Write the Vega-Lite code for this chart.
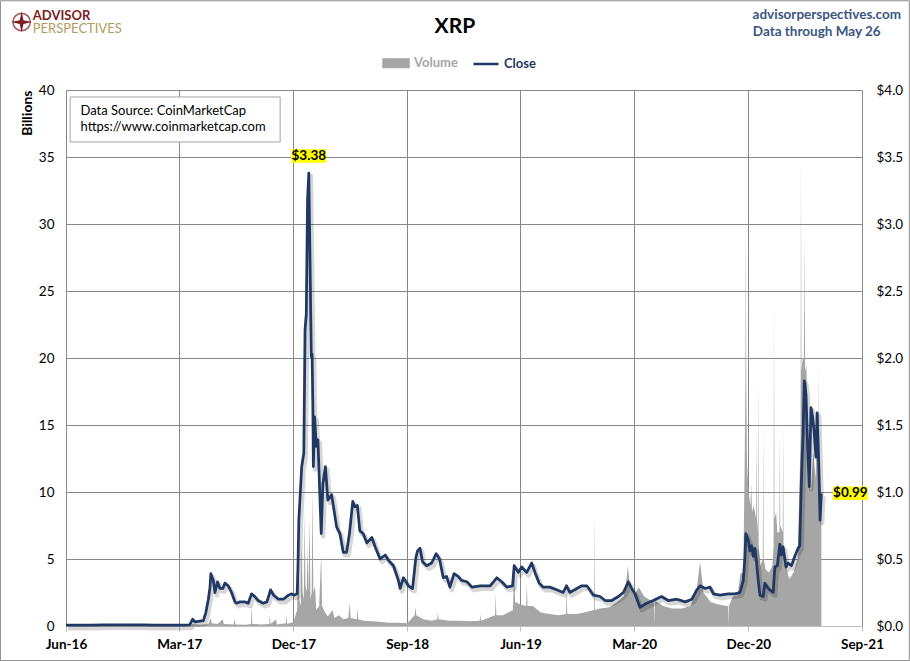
{
  "$schema": "https://vega.github.io/schema/vega-lite/v6.json",
  "description": "XRP daily close and trading volume, Jun 2016 - May 2021.",
  "width": 796,
  "height": 536,
  "autosize": {"type": "none"},
  "padding": {"left": 66, "top": 90, "right": 48, "bottom": 35},
  "background": "white",
  "config": {
    "font": "Lato",
    "view": {"stroke": null},
    "axis": {"labelColor": "#000", "labelFontSize": 13.5, "labelFont": "Lato"}
  },
  "datasets": {
    "price": [
      {"date": "2016-06-01", "close": 0.006},
      {"date": "2016-07-01", "close": 0.0065},
      {"date": "2016-08-01", "close": 0.006},
      {"date": "2016-09-01", "close": 0.0075},
      {"date": "2016-10-01", "close": 0.0085},
      {"date": "2016-11-01", "close": 0.008},
      {"date": "2016-12-01", "close": 0.0075},
      {"date": "2017-01-01", "close": 0.0065},
      {"date": "2017-02-01", "close": 0.0065},
      {"date": "2017-03-01", "close": 0.006},
      {"date": "2017-03-10", "close": 0.007},
      {"date": "2017-03-26", "close": 0.008},
      {"date": "2017-04-02", "close": 0.05},
      {"date": "2017-04-08", "close": 0.03},
      {"date": "2017-04-28", "close": 0.04},
      {"date": "2017-05-04", "close": 0.10},
      {"date": "2017-05-10", "close": 0.20},
      {"date": "2017-05-14", "close": 0.29},
      {"date": "2017-05-16", "close": 0.39},
      {"date": "2017-05-22", "close": 0.34},
      {"date": "2017-05-26", "close": 0.25},
      {"date": "2017-06-01", "close": 0.33},
      {"date": "2017-06-07", "close": 0.28},
      {"date": "2017-06-14", "close": 0.28},
      {"date": "2017-06-19", "close": 0.32},
      {"date": "2017-06-27", "close": 0.30},
      {"date": "2017-07-05", "close": 0.25},
      {"date": "2017-07-13", "close": 0.18},
      {"date": "2017-07-17", "close": 0.17},
      {"date": "2017-07-25", "close": 0.18},
      {"date": "2017-08-06", "close": 0.18},
      {"date": "2017-08-14", "close": 0.17},
      {"date": "2017-08-22", "close": 0.24},
      {"date": "2017-08-30", "close": 0.22},
      {"date": "2017-09-07", "close": 0.19},
      {"date": "2017-09-19", "close": 0.17},
      {"date": "2017-09-28", "close": 0.18},
      {"date": "2017-10-07", "close": 0.27},
      {"date": "2017-10-14", "close": 0.23},
      {"date": "2017-10-26", "close": 0.20},
      {"date": "2017-11-07", "close": 0.20},
      {"date": "2017-11-19", "close": 0.23},
      {"date": "2017-11-27", "close": 0.24},
      {"date": "2017-12-02", "close": 0.23},
      {"date": "2017-12-10", "close": 0.24},
      {"date": "2017-12-12", "close": 0.45},
      {"date": "2017-12-14", "close": 0.79},
      {"date": "2017-12-21", "close": 1.19},
      {"date": "2017-12-26", "close": 1.29},
      {"date": "2017-12-29", "close": 2.21},
      {"date": "2018-01-01", "close": 2.33},
      {"date": "2018-01-04", "close": 3.18},
      {"date": "2018-01-07", "close": 3.38},
      {"date": "2018-01-10", "close": 2.73},
      {"date": "2018-01-13", "close": 2.01},
      {"date": "2018-01-15", "close": 2.03},
      {"date": "2018-01-17", "close": 1.59},
      {"date": "2018-01-18", "close": 1.19},
      {"date": "2018-01-21", "close": 1.56},
      {"date": "2018-01-25", "close": 1.34},
      {"date": "2018-01-29", "close": 1.39},
      {"date": "2018-02-04", "close": 0.86},
      {"date": "2018-02-06", "close": 0.69},
      {"date": "2018-02-10", "close": 1.06},
      {"date": "2018-02-16", "close": 1.19},
      {"date": "2018-02-22", "close": 0.94},
      {"date": "2018-03-03", "close": 0.98},
      {"date": "2018-03-15", "close": 0.74},
      {"date": "2018-03-23", "close": 0.69},
      {"date": "2018-03-31", "close": 0.55},
      {"date": "2018-04-08", "close": 0.55},
      {"date": "2018-04-15", "close": 0.69},
      {"date": "2018-04-23", "close": 0.93},
      {"date": "2018-04-28", "close": 0.89},
      {"date": "2018-05-04", "close": 0.90},
      {"date": "2018-05-10", "close": 0.71},
      {"date": "2018-05-18", "close": 0.69},
      {"date": "2018-05-27", "close": 0.62},
      {"date": "2018-06-08", "close": 0.66},
      {"date": "2018-06-16", "close": 0.59},
      {"date": "2018-06-28", "close": 0.50},
      {"date": "2018-07-10", "close": 0.53},
      {"date": "2018-07-18", "close": 0.49},
      {"date": "2018-07-30", "close": 0.45},
      {"date": "2018-08-11", "close": 0.34},
      {"date": "2018-08-15", "close": 0.28},
      {"date": "2018-08-23", "close": 0.36},
      {"date": "2018-09-04", "close": 0.30},
      {"date": "2018-09-14", "close": 0.28},
      {"date": "2018-09-22", "close": 0.51},
      {"date": "2018-09-26", "close": 0.56},
      {"date": "2018-10-02", "close": 0.58},
      {"date": "2018-10-08", "close": 0.48},
      {"date": "2018-10-18", "close": 0.45},
      {"date": "2018-10-30", "close": 0.47},
      {"date": "2018-11-10", "close": 0.54},
      {"date": "2018-11-18", "close": 0.50},
      {"date": "2018-11-27", "close": 0.36},
      {"date": "2018-12-05", "close": 0.37},
      {"date": "2018-12-13", "close": 0.29},
      {"date": "2018-12-23", "close": 0.39},
      {"date": "2019-01-02", "close": 0.37},
      {"date": "2019-01-10", "close": 0.34},
      {"date": "2019-01-23", "close": 0.33},
      {"date": "2019-02-04", "close": 0.29},
      {"date": "2019-02-24", "close": 0.30},
      {"date": "2019-03-20", "close": 0.30},
      {"date": "2019-04-05", "close": 0.36},
      {"date": "2019-04-17", "close": 0.33},
      {"date": "2019-04-29", "close": 0.29},
      {"date": "2019-05-13", "close": 0.30},
      {"date": "2019-05-17", "close": 0.45},
      {"date": "2019-05-27", "close": 0.40},
      {"date": "2019-06-04", "close": 0.44},
      {"date": "2019-06-16", "close": 0.40},
      {"date": "2019-06-28", "close": 0.47},
      {"date": "2019-07-06", "close": 0.40},
      {"date": "2019-07-16", "close": 0.32},
      {"date": "2019-07-26", "close": 0.29},
      {"date": "2019-08-11", "close": 0.29},
      {"date": "2019-08-27", "close": 0.27},
      {"date": "2019-09-12", "close": 0.25},
      {"date": "2019-09-20", "close": 0.30},
      {"date": "2019-09-28", "close": 0.25},
      {"date": "2019-10-15", "close": 0.28},
      {"date": "2019-10-27", "close": 0.30},
      {"date": "2019-11-08", "close": 0.30},
      {"date": "2019-11-24", "close": 0.23},
      {"date": "2019-12-10", "close": 0.22},
      {"date": "2019-12-22", "close": 0.19},
      {"date": "2020-01-07", "close": 0.19},
      {"date": "2020-01-23", "close": 0.22},
      {"date": "2020-02-04", "close": 0.25},
      {"date": "2020-02-16", "close": 0.33},
      {"date": "2020-02-24", "close": 0.28},
      {"date": "2020-03-03", "close": 0.24},
      {"date": "2020-03-15", "close": 0.14},
      {"date": "2020-03-31", "close": 0.17},
      {"date": "2020-04-16", "close": 0.19},
      {"date": "2020-05-06", "close": 0.22},
      {"date": "2020-05-22", "close": 0.19},
      {"date": "2020-06-12", "close": 0.20},
      {"date": "2020-07-02", "close": 0.18},
      {"date": "2020-07-18", "close": 0.20},
      {"date": "2020-07-30", "close": 0.27},
      {"date": "2020-08-07", "close": 0.30},
      {"date": "2020-08-19", "close": 0.28},
      {"date": "2020-08-31", "close": 0.29},
      {"date": "2020-09-08", "close": 0.24},
      {"date": "2020-09-24", "close": 0.23},
      {"date": "2020-10-14", "close": 0.24},
      {"date": "2020-10-30", "close": 0.24},
      {"date": "2020-11-11", "close": 0.25},
      {"date": "2020-11-19", "close": 0.34},
      {"date": "2020-11-23", "close": 0.52},
      {"date": "2020-11-25", "close": 0.69},
      {"date": "2020-12-01", "close": 0.64},
      {"date": "2020-12-05", "close": 0.56},
      {"date": "2020-12-09", "close": 0.60},
      {"date": "2020-12-13", "close": 0.52},
      {"date": "2020-12-17", "close": 0.58},
      {"date": "2020-12-21", "close": 0.47},
      {"date": "2020-12-25", "close": 0.34},
      {"date": "2020-12-29", "close": 0.23},
      {"date": "2021-01-06", "close": 0.22},
      {"date": "2021-01-10", "close": 0.32},
      {"date": "2021-01-18", "close": 0.28},
      {"date": "2021-01-30", "close": 0.25},
      {"date": "2021-02-03", "close": 0.44},
      {"date": "2021-02-09", "close": 0.45},
      {"date": "2021-02-15", "close": 0.61},
      {"date": "2021-02-19", "close": 0.53},
      {"date": "2021-02-23", "close": 0.59},
      {"date": "2021-03-02", "close": 0.44},
      {"date": "2021-03-07", "close": 0.47},
      {"date": "2021-03-15", "close": 0.45},
      {"date": "2021-03-23", "close": 0.52},
      {"date": "2021-03-31", "close": 0.58},
      {"date": "2021-04-04", "close": 0.60},
      {"date": "2021-04-08", "close": 1.09},
      {"date": "2021-04-12", "close": 1.44},
      {"date": "2021-04-15", "close": 1.83},
      {"date": "2021-04-19", "close": 1.73},
      {"date": "2021-04-23", "close": 1.34},
      {"date": "2021-04-27", "close": 1.04},
      {"date": "2021-05-01", "close": 1.63},
      {"date": "2021-05-05", "close": 1.56},
      {"date": "2021-05-09", "close": 1.44},
      {"date": "2021-05-13", "close": 1.26},
      {"date": "2021-05-16", "close": 1.59},
      {"date": "2021-05-20", "close": 1.19},
      {"date": "2021-05-23", "close": 0.79},
      {"date": "2021-05-26", "close": 0.99}
    ],
    "volume": [
      {"date": "2016-06-01", "volume": 0},
      {"date": "2017-03-01", "volume": 0.01},
      {"date": "2017-03-28", "volume": 0.05},
      {"date": "2017-04-02", "volume": 0.15},
      {"date": "2017-04-20", "volume": 0.1},
      {"date": "2017-05-10", "volume": 0.15},
      {"date": "2017-05-16", "volume": 0.6},
      {"date": "2017-05-18", "volume": 0.2},
      {"date": "2017-06-01", "volume": 0.15},
      {"date": "2017-06-14", "volume": 0.5},
      {"date": "2017-06-16", "volume": 0.15},
      {"date": "2017-07-10", "volume": 0.12},
      {"date": "2017-07-12", "volume": 0.55},
      {"date": "2017-07-14", "volume": 0.12},
      {"date": "2017-08-08", "volume": 0.1},
      {"date": "2017-08-21", "volume": 0.15},
      {"date": "2017-08-22", "volume": 1.5},
      {"date": "2017-08-24", "volume": 0.15},
      {"date": "2017-09-15", "volume": 0.12},
      {"date": "2017-10-04", "volume": 0.15},
      {"date": "2017-10-05", "volume": 0.8},
      {"date": "2017-10-07", "volume": 0.15},
      {"date": "2017-10-20", "volume": 0.5},
      {"date": "2017-10-22", "volume": 0.12},
      {"date": "2017-11-13", "volume": 0.2},
      {"date": "2017-11-14", "volume": 0.9},
      {"date": "2017-11-16", "volume": 0.15},
      {"date": "2017-12-01", "volume": 0.3},
      {"date": "2017-12-10", "volume": 1.2},
      {"date": "2017-12-13", "volume": 8.0},
      {"date": "2017-12-15", "volume": 2.0},
      {"date": "2017-12-19", "volume": 1.5},
      {"date": "2017-12-21", "volume": 6.0},
      {"date": "2017-12-23", "volume": 2.5},
      {"date": "2017-12-26", "volume": 2.0},
      {"date": "2017-12-28", "volume": 8.5},
      {"date": "2017-12-30", "volume": 3.0},
      {"date": "2018-01-02", "volume": 2.5},
      {"date": "2018-01-04", "volume": 6.0},
      {"date": "2018-01-06", "volume": 2.5},
      {"date": "2018-01-09", "volume": 8.0},
      {"date": "2018-01-11", "volume": 2.0},
      {"date": "2018-01-14", "volume": 2.5},
      {"date": "2018-01-16", "volume": 10.4},
      {"date": "2018-01-18", "volume": 2.5},
      {"date": "2018-01-22", "volume": 3.0},
      {"date": "2018-01-25", "volume": 1.2},
      {"date": "2018-02-01", "volume": 1.5},
      {"date": "2018-02-06", "volume": 5.4},
      {"date": "2018-02-08", "volume": 1.5},
      {"date": "2018-02-15", "volume": 1.0},
      {"date": "2018-02-22", "volume": 0.7},
      {"date": "2018-03-05", "volume": 1.2},
      {"date": "2018-03-10", "volume": 0.6},
      {"date": "2018-03-20", "volume": 0.8},
      {"date": "2018-04-01", "volume": 0.5},
      {"date": "2018-04-12", "volume": 0.6},
      {"date": "2018-04-16", "volume": 1.7},
      {"date": "2018-04-18", "volume": 0.6},
      {"date": "2018-05-03", "volume": 0.5},
      {"date": "2018-05-04", "volume": 1.4},
      {"date": "2018-05-06", "volume": 0.5},
      {"date": "2018-05-20", "volume": 0.4},
      {"date": "2018-06-10", "volume": 0.35},
      {"date": "2018-07-01", "volume": 0.3},
      {"date": "2018-07-20", "volume": 0.25},
      {"date": "2018-08-10", "volume": 0.25},
      {"date": "2018-09-01", "volume": 0.2},
      {"date": "2018-09-19", "volume": 0.8},
      {"date": "2018-09-21", "volume": 1.4},
      {"date": "2018-09-23", "volume": 0.8},
      {"date": "2018-10-10", "volume": 0.5},
      {"date": "2018-10-30", "volume": 0.4},
      {"date": "2018-11-13", "volume": 0.5},
      {"date": "2018-11-14", "volume": 1.0},
      {"date": "2018-11-16", "volume": 0.5},
      {"date": "2018-12-10", "volume": 0.4},
      {"date": "2019-01-05", "volume": 0.4},
      {"date": "2019-02-01", "volume": 0.35},
      {"date": "2019-02-23", "volume": 0.4},
      {"date": "2019-02-24", "volume": 0.9},
      {"date": "2019-02-26", "volume": 0.4},
      {"date": "2019-03-15", "volume": 0.6},
      {"date": "2019-04-01", "volume": 0.8},
      {"date": "2019-04-02", "volume": 2.4},
      {"date": "2019-04-04", "volume": 0.8},
      {"date": "2019-04-20", "volume": 0.8},
      {"date": "2019-05-14", "volume": 1.2},
      {"date": "2019-05-17", "volume": 4.7},
      {"date": "2019-05-19", "volume": 1.8},
      {"date": "2019-06-01", "volume": 1.6},
      {"date": "2019-06-15", "volume": 1.5},
      {"date": "2019-06-16", "volume": 3.2},
      {"date": "2019-06-18", "volume": 1.5},
      {"date": "2019-07-01", "volume": 1.5},
      {"date": "2019-07-20", "volume": 1.0},
      {"date": "2019-08-10", "volume": 0.9},
      {"date": "2019-09-01", "volume": 0.8},
      {"date": "2019-09-19", "volume": 0.9},
      {"date": "2019-09-20", "volume": 2.6},
      {"date": "2019-09-22", "volume": 0.9},
      {"date": "2019-10-15", "volume": 0.9},
      {"date": "2019-11-01", "volume": 1.0},
      {"date": "2019-11-25", "volume": 1.2},
      {"date": "2019-11-26", "volume": 8.5},
      {"date": "2019-11-27", "volume": 1.2},
      {"date": "2019-12-10", "volume": 1.3},
      {"date": "2020-01-01", "volume": 1.4},
      {"date": "2020-01-20", "volume": 1.8},
      {"date": "2020-02-05", "volume": 2.2},
      {"date": "2020-02-12", "volume": 3.6},
      {"date": "2020-02-15", "volume": 4.5},
      {"date": "2020-02-20", "volume": 2.8},
      {"date": "2020-03-01", "volume": 2.3},
      {"date": "2020-03-12", "volume": 2.9},
      {"date": "2020-03-25", "volume": 2.2},
      {"date": "2020-04-10", "volume": 1.9},
      {"date": "2020-04-18", "volume": 1.9},
      {"date": "2020-04-19", "volume": 0},
      {"date": "2020-04-20", "volume": 1.9},
      {"date": "2020-05-10", "volume": 1.5},
      {"date": "2020-06-01", "volume": 1.3},
      {"date": "2020-06-25", "volume": 1.3},
      {"date": "2020-07-15", "volume": 1.5},
      {"date": "2020-07-30", "volume": 2.8},
      {"date": "2020-08-07", "volume": 4.8},
      {"date": "2020-08-15", "volume": 2.5},
      {"date": "2020-09-01", "volume": 1.8},
      {"date": "2020-09-20", "volume": 1.6},
      {"date": "2020-10-10", "volume": 1.5},
      {"date": "2020-10-13", "volume": 1.5},
      {"date": "2020-10-14", "volume": 0},
      {"date": "2020-10-15", "volume": 1.5},
      {"date": "2020-10-25", "volume": 2.2},
      {"date": "2020-11-05", "volume": 2.3},
      {"date": "2020-11-12", "volume": 3.9},
      {"date": "2020-11-19", "volume": 4.0},
      {"date": "2020-11-22", "volume": 11.4},
      {"date": "2020-11-24", "volume": 18},
      {"date": "2020-11-25", "volume": 31.3},
      {"date": "2020-11-26", "volume": 18},
      {"date": "2020-11-28", "volume": 12},
      {"date": "2020-12-02", "volume": 9.9},
      {"date": "2020-12-06", "volume": 9.0},
      {"date": "2020-12-08", "volume": 10.6},
      {"date": "2020-12-10", "volume": 8.5},
      {"date": "2020-12-14", "volume": 9.0},
      {"date": "2020-12-20", "volume": 8},
      {"date": "2020-12-21", "volume": 15},
      {"date": "2020-12-22", "volume": 8},
      {"date": "2020-12-24", "volume": 7},
      {"date": "2020-12-25", "volume": 19},
      {"date": "2020-12-26", "volume": 6},
      {"date": "2020-12-30", "volume": 4.5},
      {"date": "2021-01-05", "volume": 5},
      {"date": "2021-01-06", "volume": 14.8},
      {"date": "2021-01-07", "volume": 5},
      {"date": "2021-01-12", "volume": 4.2},
      {"date": "2021-01-20", "volume": 4.0},
      {"date": "2021-01-28", "volume": 4.5},
      {"date": "2021-01-31", "volume": 6},
      {"date": "2021-02-01", "volume": 24.3},
      {"date": "2021-02-02", "volume": 8},
      {"date": "2021-02-06", "volume": 8.5},
      {"date": "2021-02-09", "volume": 7.0},
      {"date": "2021-02-14", "volume": 7},
      {"date": "2021-02-15", "volume": 14.4},
      {"date": "2021-02-16", "volume": 7.5},
      {"date": "2021-02-22", "volume": 7},
      {"date": "2021-02-23", "volume": 15},
      {"date": "2021-02-24", "volume": 6},
      {"date": "2021-03-01", "volume": 4.5},
      {"date": "2021-03-10", "volume": 3.5},
      {"date": "2021-03-20", "volume": 4.0},
      {"date": "2021-03-30", "volume": 5.0},
      {"date": "2021-04-03", "volume": 10},
      {"date": "2021-04-06", "volume": 14},
      {"date": "2021-04-07", "volume": 35.5},
      {"date": "2021-04-08", "volume": 19},
      {"date": "2021-04-11", "volume": 20},
      {"date": "2021-04-14", "volume": 20},
      {"date": "2021-04-15", "volume": 29},
      {"date": "2021-04-17", "volume": 19},
      {"date": "2021-04-20", "volume": 19.5},
      {"date": "2021-04-25", "volume": 12},
      {"date": "2021-05-01", "volume": 10},
      {"date": "2021-05-07", "volume": 13},
      {"date": "2021-05-12", "volume": 11},
      {"date": "2021-05-17", "volume": 15},
      {"date": "2021-05-19", "volume": 10},
      {"date": "2021-05-20", "volume": 19.8},
      {"date": "2021-05-21", "volume": 9},
      {"date": "2021-05-23", "volume": 8.9},
      {"date": "2021-05-26", "volume": 8.0}
    ]
  },
  "layer": [
    {
      "layer": [
        {
          "data": {"name": "volume"},
          "mark": {"type": "area", "interpolate": "linear"},
          "encoding": {
            "x": {
              "field": "date",
              "type": "temporal",
              "scale": {
                "type": "utc",
                "nice": false,
                "domain": [
                  {"year": 2016, "month": 6, "date": 1, "utc": true},
                  {"year": 2021, "month": 9, "date": 1, "utc": true}
                ]
              },
              "axis": {
                "title": null,
                "values": [
                  {"year": 2016, "month": 6, "date": 1, "utc": true},
                  {"year": 2017, "month": 3, "date": 1, "utc": true},
                  {"year": 2017, "month": 12, "date": 1, "utc": true},
                  {"year": 2018, "month": 9, "date": 1, "utc": true},
                  {"year": 2019, "month": 6, "date": 1, "utc": true},
                  {"year": 2020, "month": 3, "date": 1, "utc": true},
                  {"year": 2020, "month": 12, "date": 1, "utc": true},
                  {"year": 2021, "month": 9, "date": 1, "utc": true}
                ],
                "labelExpr": "utcFormat(datum.value, '%b-%y')",
                "labelFontWeight": "bold",
                "labelFontSize": 13.5,
                "labelPadding": 6,
                "labelFlush": false,
                "labelOverlap": false,
                "grid": true,
                "gridColor": "#878787",
                "gridWidth": 1,
                "domainColor": "#BFBFBF",
                "tickColor": "#BFBFBF",
                "tickSize": 5
              }
            },
            "y": {
              "field": "volume",
              "type": "quantitative",
              "scale": {"domain": [0, 40], "nice": false, "zero": true},
              "axis": {
                "title": "Billions",
                "titleFontSize": 14,
                "titleFontWeight": "bold",
                "titleColor": "#000",
                "titleAnchor": "end",
                "titlePadding": 4,
                "values": [0, 5, 10, 15, 20, 25, 30, 35, 40],
                "ticks": false,
                "domain": false,
                "labelPadding": 12,
                "grid": true,
                "gridColor": "#878787",
                "gridWidth": 1
              }
            },
            "color": {
              "datum": "Volume",
              "scale": {"domain": ["Volume", "Close"], "range": ["#A6A6A6", "#1F3864"]},
              "legend": {
                "title": null,
                "orient": "none",
                "direction": "horizontal",
                "legendX": 316,
                "legendY": -41,
                "symbolSize": 625,
                "labelFontSize": 13,
                "labelFontWeight": "bold",
                "labelOffset": 4,
                "columnPadding": 10,
                "encode": {
                  "symbols": {
                    "update": {
                      "shape": {"signal": "datum.value === 'Volume' ? 'M-1,-0.3H1V0.3H-1Z' : 'stroke'"},
                      "fill": {"signal": "datum.value === 'Volume' ? '#A6A6A6' : 'transparent'"},
                      "stroke": {"signal": "datum.value === 'Volume' ? 'transparent' : '#1F3864'"},
                      "strokeWidth": {"value": 2.5}
                    }
                  },
                  "labels": {
                    "update": {
                      "fill": {"signal": "datum.value === 'Volume' ? '#A6A6A6' : '#1F3864'"}
                    }
                  }
                }
              }
            }
          }
        },
        {
          "data": {"values": [{}]},
          "mark": {"type": "rect", "fill": "transparent", "stroke": "#8C8C8C", "strokeWidth": 1},
          "encoding": {
            "x": {"datum": {"year": 2015, "month": 12, "date": 26, "utc": true}, "type": "temporal"},
            "x2": {"datum": {"year": 2021, "month": 12, "date": 24, "utc": true}},
            "y": {"datum": 46.66, "type": "quantitative"},
            "y2": {"datum": -2.58}
          }
        },
        {
          "data": {"values": [{}]},
          "mark": {"type": "rect", "fill": "#8C8C8C", "opacity": 0.35, "xOffset": 3, "yOffset": 3},
          "encoding": {
            "x": {"datum": {"year": 2016, "month": 6, "date": 11, "utc": true}, "type": "temporal"},
            "x2": {"datum": {"year": 2017, "month": 10, "date": 30, "utc": true}},
            "y": {"datum": 39.48, "type": "quantitative"},
            "y2": {"datum": 36.12}
          }
        },
        {
          "data": {"values": [{}]},
          "mark": {"type": "rect", "fill": "white", "stroke": "#A6A6A6", "strokeWidth": 1},
          "encoding": {
            "x": {"datum": {"year": 2016, "month": 6, "date": 11, "utc": true}, "type": "temporal"},
            "x2": {"datum": {"year": 2017, "month": 10, "date": 30, "utc": true}},
            "y": {"datum": 39.48, "type": "quantitative"},
            "y2": {"datum": 36.12}
          }
        },
        {
          "data": {"values": [{}]},
          "mark": {
            "type": "text",
            "text": "Data Source: CoinMarketCap\nhttps://www.coinmarketcap.com",
            "lineBreak": "\n",
            "lineHeight": 16,
            "align": "left",
            "baseline": "alphabetic",
            "fontSize": 13,
            "color": "#000"
          },
          "encoding": {
            "x": {"datum": {"year": 2016, "month": 7, "date": 6, "utc": true}, "type": "temporal"},
            "y": {"datum": 38.11, "type": "quantitative"}
          }
        },
        {
          "data": {"values": [{}]},
          "mark": {"type": "text", "text": "XRP", "align": "center", "baseline": "alphabetic", "fontSize": 21, "fontWeight": "bold", "color": "#000"},
          "encoding": {
            "x": {"datum": {"year": 2018, "month": 12, "date": 25, "utc": true}, "type": "temporal"},
            "y": {"datum": 44.23, "type": "quantitative"}
          }
        },
        {
          "data": {"values": [{}]},
          "mark": {"type": "point", "shape": "circle", "filled": false, "stroke": "#7B1E22", "strokeWidth": 1.6, "size": 300},
          "encoding": {
            "x": {"datum": {"year": 2016, "month": 2, "date": 15, "utc": true}, "type": "temporal"},
            "y": {"datum": 45.07, "type": "quantitative"}
          }
        },
        {
          "data": {"values": [{}]},
          "mark": {
            "type": "point",
            "shape": "M0,-1L0.18,-0.18L1,0L0.18,0.18L0,1L-0.18,0.18L-1,0L-0.18,-0.18Z",
            "filled": true,
            "fill": "#7B1E22",
            "opacity": 1,
            "size": 441
          },
          "encoding": {
            "x": {"datum": {"year": 2016, "month": 2, "date": 15, "utc": true}, "type": "temporal"},
            "y": {"datum": 45.07, "type": "quantitative"}
          }
        },
        {
          "data": {"values": [{}]},
          "mark": {"type": "text", "text": "ADVISOR", "align": "left", "baseline": "alphabetic", "fontSize": 13, "fontWeight": "bold", "color": "#7B1E22"},
          "encoding": {
            "x": {"datum": {"year": 2016, "month": 3, "date": 13, "utc": true}, "type": "temporal"},
            "y": {"datum": 45.24, "type": "quantitative"}
          }
        },
        {
          "data": {"values": [{}]},
          "mark": {"type": "text", "text": "PERSPECTIVES", "align": "left", "baseline": "alphabetic", "fontSize": 13, "color": "#B39A5C"},
          "encoding": {
            "x": {"datum": {"year": 2016, "month": 3, "date": 13, "utc": true}, "type": "temporal"},
            "y": {"datum": 44.27, "type": "quantitative"}
          }
        },
        {
          "data": {"values": [{}]},
          "mark": {"type": "text", "text": "advisorperspectives.com", "align": "right", "baseline": "alphabetic", "fontSize": 13.5, "fontWeight": "bold", "color": "#3A5683"},
          "encoding": {
            "x": {"datum": {"year": 2021, "month": 12, "date": 4, "utc": true}, "type": "temporal"},
            "y": {"datum": 45.28, "type": "quantitative"}
          }
        },
        {
          "data": {"values": [{}]},
          "mark": {"type": "text", "text": "Data through May 26", "align": "center", "baseline": "alphabetic", "fontSize": 13.5, "fontWeight": "bold", "color": "#3A5683"},
          "encoding": {
            "x": {"datum": {"year": 2021, "month": 5, "date": 15, "utc": true}, "type": "temporal"},
            "y": {"datum": 44.0, "type": "quantitative"}
          }
        }
      ]
    },
    {
      "data": {"name": "price"},
      "encoding": {
        "x": {"field": "date", "type": "temporal"},
        "y": {
          "field": "close",
          "type": "quantitative",
          "scale": {"domain": [0, 4], "nice": false, "zero": true},
          "axis": {
            "orient": "right",
            "title": null,
            "values": [0, 0.5, 1, 1.5, 2, 2.5, 3, 3.5, 4],
            "format": "$.1f",
            "ticks": false,
            "domain": false,
            "grid": false,
            "labelPadding": 14
          }
        }
      },
      "layer": [
        {
          "mark": {"type": "line", "color": "#000", "opacity": 0.16, "strokeWidth": 4.5, "xOffset": 2, "yOffset": 3, "strokeJoin": "round"}
        },
        {
          "mark": {"type": "line", "strokeWidth": 2.75, "strokeJoin": "round"},
          "encoding": {"color": {"datum": "Close"}}
        },
        {
          "transform": [{"filter": {"field": "close", "equal": 3.38}}],
          "mark": {"type": "point", "shape": "M-1.4,-0.54H1.4V0.54H-1.4Z", "filled": true, "fill": "#FFFF00", "opacity": 1, "size": 625, "yOffset": -17}
        },
        {
          "transform": [{"filter": {"field": "close", "equal": 3.38}}],
          "mark": {"type": "text", "align": "center", "baseline": "middle", "dy": -17, "fontSize": 13.5, "fontWeight": "bold", "color": "#000"},
          "encoding": {"text": {"field": "close", "type": "quantitative", "format": "$.2f"}}
        },
        {
          "transform": [{"filter": {"field": "close", "equal": 0.99}}],
          "mark": {"type": "point", "shape": "M-1.4,-0.54H1.4V0.54H-1.4Z", "filled": true, "fill": "#FFFF00", "opacity": 1, "size": 625, "xOffset": 29}
        },
        {
          "transform": [{"filter": {"field": "close", "equal": 0.99}}],
          "mark": {"type": "text", "align": "center", "baseline": "middle", "dx": 29, "fontSize": 13.5, "fontWeight": "bold", "color": "#000"},
          "encoding": {"text": {"field": "close", "type": "quantitative", "format": "$.2f"}}
        }
      ]
    }
  ],
  "resolve": {"scale": {"y": "independent"}}
}
